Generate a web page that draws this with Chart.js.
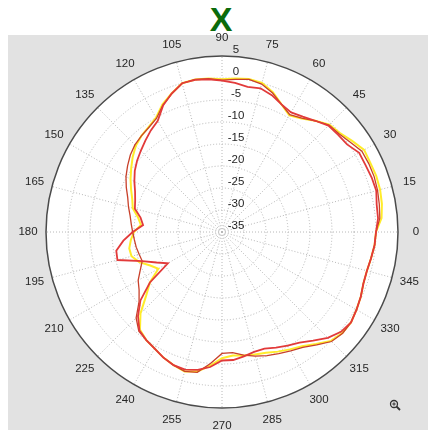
<!DOCTYPE html>
<html>
<head>
<meta charset="utf-8">
<script src="https://cdn.jsdelivr.net/npm/chart.js@4.4.0/dist/chart.umd.min.js"></script>
<style>
  body { margin: 0; background: #fff; width: 431px; height: 430px; overflow: hidden; position: relative;
         font-family: "Liberation Sans", Arial, sans-serif; }
  #bg { position: absolute; left: 8px; top: 35px; width: 420px; height: 395px; background: #e2e2e2; }
  #title { position: absolute; left: 0; top: 2px; width: 442px; text-align: center; line-height: 34px;
           font-size: 34px; font-weight: bold; color: #0b6b0b; }
  #wrap { position: absolute; left: 0; top: 0; width: 431px; height: 430px; }
  #zoomIcon { position: absolute; left: 389px; top: 399px; }
</style>
</head>
<body>
<div id="bg"></div>
<div id="title">X</div>
<div id="wrap"><canvas id="chart"></canvas></div>
<svg id="zoomIcon" width="12" height="12" viewBox="0 0 12 12">
  <circle cx="5" cy="5" r="3.5" fill="none" stroke="#333" stroke-width="1.3"/>
  <line x1="7.5" y1="7.5" x2="11" y2="11" stroke="#333" stroke-width="1.8"/>
  <line x1="3.3" y1="5" x2="6.7" y2="5" stroke="#333" stroke-width="1"/>
  <line x1="5" y1="3.3" x2="5" y2="6.7" stroke="#333" stroke-width="1"/>
</svg>
<script>
  // angle (deg) of each sample, counter-clockwise from 0 at the right
  var angles = [0, 5, 10, 15, 20, 25, 30, 35, 40, 45, 50, 55, 60, 65, 70, 75, 80, 85,
                90, 95, 100, 105, 110, 115, 120, 125, 130, 135, 140, 145, 150, 155, 160, 165, 170, 175,
                180, 185, 190, 195, 200, 205, 210, 215, 220, 225, 230, 235, 240, 245, 250, 255, 260, 265,
                270, 275, 280, 285, 290, 295, 300, 305, 310, 315, 320, 325, 330, 335, 340, 345, 350, 355];

  // gain in dB, same order as angles
  var redTrace = [0.0, 0.6, 0.7, 1.3, 1.2, 1.0, 1.0, -0.3, -0.6, -0.8, -2.0, -3.0, -3.6, -3.0, -1.9, -1.2, -1.5, -1.0,
                  -0.6, -0.2, 0.1, 0.0, -1.5, -3.3, -5.8, -6.8, -7.9, -8.9, -9.8, -10.8, -12.0, -13.2, -14.0, -14.5, -16.2, -17.0,
                  -14.7, -12.5, -10.6, -10.4, -15.7, -18.6, -20.8, -15.0, -10.8, -8.0, -5.8, -5.0, -4.4, -3.5, -2.8, -2.6, -3.2, -4.2,
                  -5.8, -5.8, -6.3, -6.8, -6.8, -6.0, -5.2, -4.3, -2.8, -1.0, 0.3, 0.8, 0.3, -0.2, -0.8, -0.9, -0.6, -0.2];
  var darkTrace = [0.0, 1.0, 1.3, 1.6, 1.8, 1.8, 1.7, 0.6, -0.3, -0.6, -2.0, -3.4, -4.2, -3.0, -1.4, -0.2, 0.2, -0.2,
                   -0.5, 0.0, 0.2, 0.0, -1.6, -3.2, -5.2, -6.0, -6.5, -7.0, -7.8, -8.8, -9.8, -11.0, -12.2, -13.0, -13.8, -14.3,
                   -14.7, -15.0, -15.2, -15.5, -15.7, -14.5, -13.0, -12.0, -10.4, -7.4, -5.6, -5.0, -4.4, -3.5, -2.8, -2.2, -2.6, -5.0,
                   -7.4, -7.5, -6.6, -5.8, -5.1, -4.5, -3.8, -3.0, -1.5, 0.2, 0.8, 0.8, 0.3, -0.2, -0.8, -0.9, -0.6, -0.2];
  var yellowTrace = [0.0, 1.4, 1.9, 2.2, 2.3, 2.2, 2.3, 1.1, 0.0, -0.5, -2.0, -3.5, -4.4, -3.0, -1.2, 0.1, 0.3, 0.0,
                     -0.3, 0.0, 0.2, 0.0, -1.5, -3.0, -5.0, -5.9, -6.5, -7.3, -8.5, -9.8, -11.0, -12.2, -13.3, -14.0, -15.6, -16.5,
                     -15.0, -14.2, -13.6, -13.7, -15.0, -17.0, -18.3, -15.0, -12.5, -8.8, -6.0, -5.0, -4.4, -3.5, -2.8, -2.2, -2.8, -4.5,
                     -6.3, -6.8, -6.5, -6.2, -5.8, -5.0, -4.2, -3.3, -1.8, 0.0, 0.7, 0.8, 0.3, -0.2, -0.8, -0.9, -0.6, -0.2];

  var angleTicks = [0, 15, 30, 45, 60, 75, 90, 105, 120, 135, 150, 165, 180, 195, 210, 225, 240, 255, 270, 285, 300, 315, 330, 345];
  var rTicks = [5, 0, -5, -10, -15, -20, -25, -30, -35];

  // radar runs clockwise from the top, so start at 90 and walk down
  var order = [];
  for (var i = 0; i < angles.length; i++) {
    order.push((90 - i * 5 + 360) % 360);
  }
  function pick(arr) {
    return order.map(function (a) { return arr[angles.indexOf(a)]; });
  }

  var textColor = '#262626';
  var labelFont = '11.5px "Liberation Sans", Arial, sans-serif';

  var polarLabels = {
    id: 'polarLabels',
    afterDraw: function (chart) {
      var s = chart.scales.r;
      var c = chart.ctx;
      c.save();
      c.font = labelFont;
      c.fillStyle = textColor;
      c.textAlign = 'center';
      c.textBaseline = 'middle';
      angleTicks.forEach(function (a) {
        var p = s.getPointPosition(order.indexOf(a), s.drawingArea + 18);
        c.fillText(String(a), p.x, p.y);
      });
      rTicks.forEach(function (v) {
        var d = s.getDistanceFromCenterForValue(v);
        c.fillText(String(v), s.xCenter + 14, s.yCenter - d - 6);
      });
      c.restore();
    }
  };

  function line(label, data, color, width) {
    return {
      label: label,
      data: pick(data),
      borderColor: color,
      borderWidth: width,
      pointRadius: 0,
      fill: false,
      tension: 0
    };
  }

  new Chart(document.getElementById('chart'), {
    type: 'radar',
    data: {
      labels: order,
      datasets: [
        line('red', redTrace, '#e23a3a', 1.8),
        line('dark', darkTrace, '#c8402a', 1.3),
        line('yellow', yellowTrace, '#ffec2a', 2)
      ]
    },
    options: {
      responsive: true,
      maintainAspectRatio: false,
      animation: false,
      layout: { padding: { left: 46, top: 56, right: 33, bottom: 22 } },
      plugins: { legend: { display: false }, tooltip: { enabled: false } },
      scales: {
        r: {
          min: -35,
          max: 5,
          startAngle: 0,
          backgroundColor: '#ffffff',
          ticks: { display: false, stepSize: 5 },
          pointLabels: { display: false },
          grid: {
            circular: true,
            color: function (ctx) { return ctx.tick.value === 5 ? '#4a4a4a' : '#b8b8b8'; },
            lineWidth: function (ctx) { return ctx.tick.value === 5 ? 1.5 : 1; }
          },
          border: {
            dash: function (ctx) { return ctx.tick && ctx.tick.value === 5 ? [] : [1, 2]; }
          },
          angleLines: {
            color: '#b8b8b8',
            lineWidth: function (ctx) { return order[ctx.index] % 15 === 0 ? 1 : 0; },
            borderDash: [1, 2]
          }
        }
      }
    },
    plugins: [polarLabels]
  });
</script>
</body>
</html>
